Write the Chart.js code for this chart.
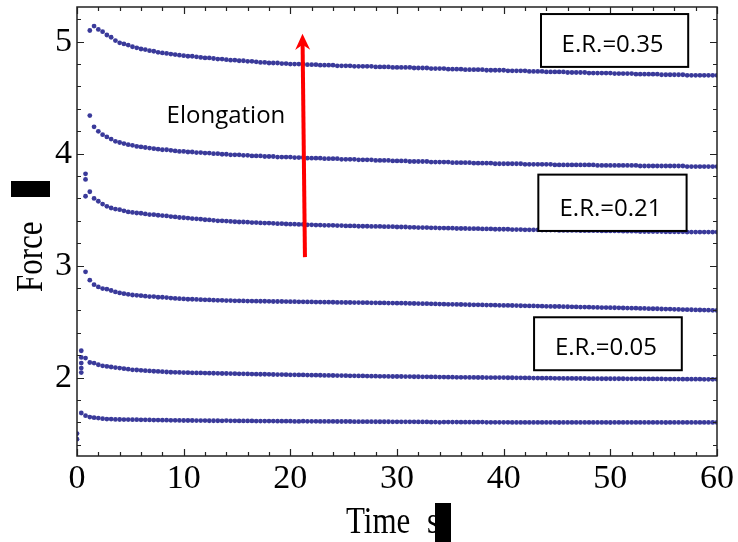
<!DOCTYPE html>
<html>
<head>
<meta charset="utf-8">
<script src="https://cdn.jsdelivr.net/npm/chart.js@4.4.4/dist/chart.umd.min.js"></script>
<style>
  html, body { margin: 0; padding: 0; background: #fff; }
  #wrap { width: 738px; height: 542px; }
</style>
</head>
<body>
<div id="wrap"><canvas id="chart" width="738" height="542"></canvas></div>
<script>
// Relaxation curves: force vs time, one sample every 0.4 s, six runs
// (top to bottom in the plot).
const TIME_S = [
  0.4, 0.8, 1.2, 1.6, 2.0, 2.4, 2.8, 3.2, 3.6, 4.0,
  4.4, 4.8, 5.2, 5.6, 6.0, 6.4, 6.8, 7.2, 7.6, 8.0,
  8.4, 8.8, 9.2, 9.6, 10.0, 10.4, 10.8, 11.2, 11.6, 12.0,
  12.4, 12.8, 13.2, 13.6, 14.0, 14.4, 14.8, 15.2, 15.6, 16.0,
  16.4, 16.8, 17.2, 17.6, 18.0, 18.4, 18.8, 19.2, 19.6, 20.0,
  20.4, 20.8, 21.2, 21.6, 22.0, 22.4, 22.8, 23.2, 23.6, 24.0,
  24.4, 24.8, 25.2, 25.6, 26.0, 26.4, 26.8, 27.2, 27.6, 28.0,
  28.4, 28.8, 29.2, 29.6, 30.0, 30.4, 30.8, 31.2, 31.6, 32.0,
  32.4, 32.8, 33.2, 33.6, 34.0, 34.4, 34.8, 35.2, 35.6, 36.0,
  36.4, 36.8, 37.2, 37.6, 38.0, 38.4, 38.8, 39.2, 39.6, 40.0,
  40.4, 40.8, 41.2, 41.6, 42.0, 42.4, 42.8, 43.2, 43.6, 44.0,
  44.4, 44.8, 45.2, 45.6, 46.0, 46.4, 46.8, 47.2, 47.6, 48.0,
  48.4, 48.8, 49.2, 49.6, 50.0, 50.4, 50.8, 51.2, 51.6, 52.0,
  52.4, 52.8, 53.2, 53.6, 54.0, 54.4, 54.8, 55.2, 55.6, 56.0,
  56.4, 56.8, 57.2, 57.6, 58.0, 58.4, 58.8, 59.2, 59.6, 60.0
];

const FORCE_1 = [
  null, null, 5.10, 5.14, 5.11, 5.09, 5.06, 5.04, 5.01, 4.99,
  4.98, 4.97, 4.955, 4.945, 4.935, 4.93, 4.92, 4.915, 4.905, 4.90,
  4.895, 4.89, 4.885, 4.88, 4.875, 4.87, 4.87, 4.865, 4.86, 4.855,
  4.855, 4.85, 4.845, 4.845, 4.84, 4.835, 4.835, 4.83, 4.83, 4.825,
  4.825, 4.82, 4.815, 4.815, 4.81, 4.81, 4.81, 4.805, 4.805, 4.80,
  4.80, 4.80, 4.80, 4.795, 4.795, 4.795, 4.79, 4.79, 4.79, 4.79,
  4.785, 4.785, 4.785, 4.785, 4.78, 4.78, 4.78, 4.78, 4.78, 4.775,
  4.775, 4.775, 4.775, 4.77, 4.77, 4.77, 4.77, 4.77, 4.765, 4.765,
  4.765, 4.765, 4.76, 4.76, 4.76, 4.76, 4.755, 4.755, 4.755, 4.755,
  4.75, 4.75, 4.75, 4.75, 4.75, 4.745, 4.745, 4.745, 4.745, 4.745,
  4.74, 4.74, 4.74, 4.74, 4.74, 4.735, 4.735, 4.735, 4.735, 4.73,
  4.73, 4.73, 4.73, 4.73, 4.725, 4.725, 4.725, 4.725, 4.725, 4.72,
  4.72, 4.72, 4.72, 4.72, 4.72, 4.715, 4.715, 4.715, 4.715, 4.715,
  4.71, 4.71, 4.71, 4.71, 4.71, 4.71, 4.705, 4.705, 4.705, 4.705,
  4.705, 4.705, 4.70, 4.70, 4.70, 4.70, 4.70, 4.70, 4.70, 4.70
];

const FORCE_2 = [
  null, null, 4.34, 4.24, 4.20, 4.17, 4.15, 4.13, 4.11, 4.10,
  4.09, 4.08, 4.075, 4.065, 4.06, 4.055, 4.05, 4.045, 4.04, 4.035,
  4.035, 4.03, 4.025, 4.02, 4.02, 4.015, 4.015, 4.01, 4.01, 4.005,
  4.005, 4.00, 4.00, 3.995, 3.995, 3.99, 3.99, 3.99, 3.985, 3.985,
  3.98, 3.98, 3.98, 3.975, 3.975, 3.975, 3.97, 3.97, 3.97, 3.97,
  3.965, 3.965, 3.965, 3.96, 3.96, 3.96, 3.96, 3.955, 3.955, 3.955,
  3.955, 3.95, 3.95, 3.95, 3.95, 3.945, 3.945, 3.945, 3.945, 3.94,
  3.94, 3.94, 3.94, 3.935, 3.935, 3.935, 3.935, 3.93, 3.93, 3.93,
  3.93, 3.93, 3.925, 3.925, 3.925, 3.925, 3.925, 3.92, 3.92, 3.92,
  3.92, 3.92, 3.915, 3.915, 3.915, 3.915, 3.915, 3.91, 3.91, 3.91,
  3.91, 3.91, 3.91, 3.91, 3.905, 3.905, 3.905, 3.905, 3.905, 3.905,
  3.905, 3.90, 3.90, 3.90, 3.90, 3.90, 3.90, 3.90, 3.90, 3.90,
  3.90, 3.895, 3.895, 3.895, 3.895, 3.895, 3.895, 3.895, 3.895, 3.895,
  3.895, 3.89, 3.89, 3.89, 3.89, 3.89, 3.89, 3.89, 3.89, 3.89,
  3.89, 3.89, 3.885, 3.885, 3.885, 3.885, 3.885, 3.885, 3.885, 3.885
];

const FORCE_3 = [
  null, 3.62, 3.66, 3.60, 3.575, 3.55, 3.53, 3.515, 3.505, 3.50,
  3.49, 3.48, 3.475, 3.47, 3.468, 3.462, 3.456, 3.455, 3.45, 3.447,
  3.444, 3.438, 3.435, 3.43, 3.428, 3.425, 3.42, 3.418, 3.415, 3.41,
  3.408, 3.405, 3.40, 3.40, 3.398, 3.395, 3.392, 3.39, 3.39, 3.388,
  3.385, 3.385, 3.382, 3.38, 3.38, 3.378, 3.375, 3.375, 3.372, 3.37,
  3.37, 3.368, 3.368, 3.365, 3.365, 3.362, 3.362, 3.36, 3.36, 3.36,
  3.358, 3.358, 3.355, 3.355, 3.355, 3.352, 3.352, 3.352, 3.35, 3.35,
  3.35, 3.348, 3.348, 3.348, 3.345, 3.345, 3.345, 3.342, 3.342, 3.34,
  3.34, 3.34, 3.338, 3.338, 3.336, 3.336, 3.335, 3.335, 3.332, 3.332,
  3.332, 3.33, 3.33, 3.33, 3.328, 3.328, 3.328, 3.325, 3.325, 3.325,
  3.325, 3.322, 3.322, 3.322, 3.32, 3.32, 3.32, 3.32, 3.318, 3.318,
  3.318, 3.318, 3.315, 3.315, 3.315, 3.315, 3.315, 3.312, 3.312, 3.312,
  3.312, 3.312, 3.31, 3.31, 3.31, 3.31, 3.31, 3.308, 3.308, 3.308,
  3.308, 3.305, 3.305, 3.305, 3.305, 3.305, 3.305, 3.302, 3.302, 3.302,
  3.302, 3.302, 3.30, 3.30, 3.30, 3.30, 3.30, 3.30, 3.30, 3.30
];

const FORCE_4 = [
  null, 2.945, 2.87, 2.83, 2.81, 2.795, 2.79, 2.778, 2.765, 2.756,
  2.75, 2.744, 2.738, 2.735, 2.732, 2.727, 2.724, 2.724, 2.718, 2.718,
  2.715, 2.71, 2.707, 2.705, 2.703, 2.70, 2.70, 2.698, 2.696, 2.695,
  2.694, 2.692, 2.69, 2.69, 2.688, 2.688, 2.686, 2.686, 2.685, 2.684,
  2.684, 2.683, 2.682, 2.682, 2.681, 2.68, 2.68, 2.68, 2.679, 2.678,
  2.678, 2.677, 2.677, 2.676, 2.676, 2.675, 2.675, 2.674, 2.674, 2.673,
  2.672, 2.672, 2.671, 2.671, 2.67, 2.67, 2.669, 2.669, 2.668, 2.668,
  2.667, 2.667, 2.666, 2.666, 2.665, 2.665, 2.664, 2.663, 2.662, 2.661,
  2.66, 2.66, 2.659, 2.658, 2.657, 2.656, 2.655, 2.655, 2.654, 2.653,
  2.652, 2.651, 2.65, 2.65, 2.649, 2.648, 2.648, 2.647, 2.646, 2.645,
  2.645, 2.644, 2.643, 2.642, 2.641, 2.64, 2.64, 2.639, 2.638, 2.637,
  2.636, 2.635, 2.635, 2.634, 2.633, 2.632, 2.631, 2.63, 2.63, 2.629,
  2.628, 2.627, 2.626, 2.626, 2.625, 2.624, 2.623, 2.622, 2.621, 2.62,
  2.62, 2.618, 2.618, 2.616, 2.615, 2.615, 2.613, 2.612, 2.612, 2.61,
  2.609, 2.608, 2.607, 2.606, 2.605, 2.604, 2.603, 2.602, 2.601, 2.60
];

const FORCE_5 = [
  2.24, 2.175, 2.135, 2.13, 2.115, 2.105, 2.10, 2.095, 2.09, 2.085,
  2.08, 2.075, 2.07, 2.068, 2.065, 2.062, 2.06, 2.057, 2.055, 2.053,
  2.05, 2.048, 2.047, 2.046, 2.045, 2.044, 2.043, 2.042, 2.042, 2.041,
  2.04, 2.039, 2.038, 2.037, 2.037, 2.036, 2.035, 2.034, 2.034, 2.033,
  2.032, 2.031, 2.03, 2.03, 2.029, 2.028, 2.027, 2.027, 2.026, 2.025,
  2.025, 2.024, 2.024, 2.023, 2.022, 2.022, 2.021, 2.02, 2.02, 2.019,
  2.018, 2.018, 2.017, 2.016, 2.016, 2.015, 2.015, 2.014, 2.013, 2.013,
  2.012, 2.012, 2.011, 2.01, 2.01, 2.01, 2.009, 2.009, 2.008, 2.008,
  2.007, 2.007, 2.006, 2.006, 2.005, 2.005, 2.004, 2.004, 2.003, 2.003,
  2.003, 2.002, 2.002, 2.001, 2.001, 2.0, 2.0, 2.0, 2.0, 2.0,
  1.999, 1.999, 1.998, 1.998, 1.997, 1.997, 1.996, 1.996, 1.995, 1.995,
  1.995, 1.994, 1.994, 1.993, 1.993, 1.993, 1.992, 1.992, 1.992, 1.991,
  1.991, 1.991, 1.99, 1.99, 1.99, 1.99, 1.99, 1.99, 1.989, 1.989,
  1.989, 1.989, 1.988, 1.988, 1.988, 1.988, 1.988, 1.987, 1.987, 1.987,
  1.987, 1.986, 1.986, 1.986, 1.986, 1.986, 1.985, 1.985, 1.985, 1.985
];

const FORCE_6 = [
  1.684, 1.66, 1.648, 1.642, 1.639, 1.633, 1.63, 1.63, 1.627, 1.626,
  1.625, 1.625, 1.624, 1.624, 1.623, 1.623, 1.622, 1.621, 1.621, 1.62,
  1.62, 1.619, 1.619, 1.618, 1.617, 1.617, 1.617, 1.616, 1.616, 1.616,
  1.615, 1.615, 1.615, 1.614, 1.616, 1.614, 1.614, 1.613, 1.613, 1.613,
  1.613, 1.612, 1.612, 1.612, 1.612, 1.612, 1.611, 1.611, 1.611, 1.611,
  1.609, 1.609, 1.611, 1.61, 1.61, 1.61, 1.609, 1.609, 1.609, 1.609,
  1.608, 1.608, 1.608, 1.608, 1.607, 1.607, 1.607, 1.607, 1.607, 1.606,
  1.606, 1.606, 1.606, 1.605, 1.605, 1.605, 1.605, 1.605, 1.605, 1.604,
  1.604, 1.604, 1.602, 1.603, 1.601, 1.603, 1.603, 1.603, 1.603, 1.602,
  1.602, 1.602, 1.602, 1.602, 1.603, 1.601, 1.601, 1.601, 1.601, 1.601,
  1.601, 1.60, 1.60, 1.60, 1.60, 1.60, 1.60, 1.60, 1.60, 1.60,
  1.60, 1.60, 1.599, 1.60, 1.60, 1.60, 1.60, 1.60, 1.60, 1.60,
  1.60, 1.60, 1.60, 1.60, 1.599, 1.60, 1.60, 1.60, 1.60, 1.60,
  1.60, 1.60, 1.60, 1.60, 1.60, 1.60, 1.60, 1.599, 1.60, 1.60,
  1.60, 1.60, 1.60, 1.60, 1.60, 1.60, 1.60, 1.60, 1.60, 1.60
];

// loading-phase samples that sit off the regular time grid
const LOAD_3_T = [0.8, 0.8];
const LOAD_3_F = [3.82, 3.77];
const LOAD_5_T = [0.4, 0.4, 0.4, 0.4];
const LOAD_5_F = [2.18, 2.13, 2.085, 2.045];
const LOAD_6_T = [0.0, 0.0];
const LOAD_6_F = [1.50, 1.45];

const X_TICKS = [0, 10, 20, 30, 40, 50, 60];
const Y_TICKS = [2, 3, 4, 5];

const RUNS = [
  { force: FORCE_1 },
  { force: FORCE_2 },
  { force: FORCE_3, loadT: LOAD_3_T, loadF: LOAD_3_F },
  { force: FORCE_4 },
  { force: FORCE_5, loadT: LOAD_5_T, loadF: LOAD_5_F },
  { force: FORCE_6, loadT: LOAD_6_T, loadF: LOAD_6_F }
];

// annotations, placed in data units so they go through the scales
const ER_BOXES = [
  { text: 'E.R.=0.35', t0: 43.5, t1: 57.3, f0: 4.775, f1: 5.247 },
  { text: 'E.R.=0.21', t0: 43.25, t1: 57.15, f0: 3.31, f1: 3.813 },
  { text: 'E.R.=0.05', t0: 42.85, t1: 56.7, f0: 2.066, f1: 2.539 }
];
const ARROW = { t0: 21.37, f0: 3.076, t1: 21.14, f1: 5.07 };
const ELONGATION = { text: 'Elongation', t: 8.4, f: 4.27 };

const DOT_COLOR = '#3a3a9a';
const SERIF = '"Liberation Serif", "Times New Roman", serif';
const SANS = '"Open Sans", "Noto Sans", sans-serif';

function runPoints(run) {
  const pts = [];
  if (run.loadT) run.loadT.forEach((t, i) => pts.push({ x: t, y: run.loadF[i] }));
  TIME_S.forEach((t, i) => {
    if (run.force[i] !== null) pts.push({ x: t, y: run.force[i] });
  });
  return pts;
}

const frameAndNotes = {
  id: 'frameAndNotes',
  afterDatasetsDraw(chart) {
    const { ctx, chartArea: a, scales: { x, y } } = chart;
    ctx.save();

    // frame + inward ticks on all four sides (Mathematica style)
    ctx.strokeStyle = '#222';
    ctx.lineWidth = 1.5;
    ctx.strokeRect(a.left, a.top, a.right - a.left, a.bottom - a.top);
    ctx.lineWidth = 1.2;
    ctx.beginPath();
    for (let v = 0; v <= 60; v += 2) {
      const px = Math.round(x.getPixelForValue(v)) + 0.5;
      const len = v % 10 === 0 ? 7 : 4;
      ctx.moveTo(px, a.bottom); ctx.lineTo(px, a.bottom - len);
      ctx.moveTo(px, a.top); ctx.lineTo(px, a.top + len);
    }
    for (let k = 7; k <= 26; k++) {
      const v = k / 5;
      const py = Math.round(y.getPixelForValue(v)) + 0.5;
      const len = k % 5 === 0 ? 7 : 4;
      ctx.moveTo(a.left, py); ctx.lineTo(a.left + len, py);
      ctx.moveTo(a.right, py); ctx.lineTo(a.right - len, py);
    }
    ctx.stroke();

    // E.R. boxes
    ctx.font = '24px ' + SANS;
    ctx.textAlign = 'center';
    ctx.textBaseline = 'alphabetic';
    for (const b of ER_BOXES) {
      const l = x.getPixelForValue(b.t0), r = x.getPixelForValue(b.t1);
      const t = y.getPixelForValue(b.f1), btm = y.getPixelForValue(b.f0);
      ctx.fillStyle = '#fff';
      ctx.fillRect(l, t, r - l, btm - t);
      ctx.strokeStyle = '#000';
      ctx.lineWidth = 2;
      ctx.strokeRect(l, t, r - l, btm - t);
      ctx.fillStyle = '#000';
      ctx.fillText(b.text, (l + r) / 2 - 2, btm - 15);
    }

    // elongation arrow
    const ax0 = x.getPixelForValue(ARROW.t0), ay0 = y.getPixelForValue(ARROW.f0);
    const ax1 = x.getPixelForValue(ARROW.t1), ay1 = y.getPixelForValue(ARROW.f1);
    const ang = Math.atan2(ay1 - ay0, ax1 - ax0);
    ctx.strokeStyle = '#ff0000';
    ctx.fillStyle = '#ff0000';
    ctx.lineWidth = 4;
    ctx.beginPath();
    ctx.moveTo(ax0, ay0);
    ctx.lineTo(ax1 - 10 * Math.cos(ang), ay1 - 10 * Math.sin(ang));
    ctx.stroke();
    ctx.translate(ax1, ay1);
    ctx.rotate(ang);
    ctx.beginPath();
    ctx.moveTo(0, 0);
    ctx.lineTo(-16, -7.5);
    ctx.lineTo(-11, 0);
    ctx.lineTo(-16, 7.5);
    ctx.closePath();
    ctx.fill();
    ctx.setTransform(1, 0, 0, 1, 0, 0);

    ctx.fillStyle = '#000';
    ctx.font = '24px ' + SANS;
    ctx.textAlign = 'left';
    ctx.fillText(ELONGATION.text, x.getPixelForValue(ELONGATION.t), y.getPixelForValue(ELONGATION.f));

    // axis titles (the unit is blacked out in the source figure)
    ctx.font = '31px ' + SERIF;
    ctx.save();
    ctx.translate(346, 533);
    ctx.scale(1, 1.25);
    ctx.fillText('Time', 0, 0);
    ctx.fillText('s', 81, 0);
    ctx.restore();
    ctx.fillRect(435, 503, 16, 39);

    ctx.save();
    ctx.translate(42, 292);
    ctx.rotate(-Math.PI / 2);
    ctx.scale(1, 1.25);
    ctx.fillText('Force', 0, 0);
    ctx.restore();
    ctx.fillRect(11, 181, 39, 16);

    ctx.restore();
  }
};

new Chart(document.getElementById('chart'), {
  type: 'scatter',
  data: {
    datasets: RUNS.map(run => ({
      data: runPoints(run),
      backgroundColor: DOT_COLOR,
      borderWidth: 0,
      pointRadius: 2.4,
      pointHoverRadius: 2.4
    }))
  },
  options: {
    responsive: false,
    animation: false,
    devicePixelRatio: 1,
    layout: { padding: { left: 0, right: 21, top: 7, bottom: 0 } },
    plugins: { legend: { display: false }, tooltip: { enabled: false } },
    scales: {
      x: {
        type: 'linear', min: 0, max: 60,
        grid: { display: false, drawTicks: false },
        border: { display: false },
        ticks: { font: { family: SERIF, size: 34 }, color: '#000', padding: 3, maxRotation: 0 },
        afterBuildTicks: s => { s.ticks = X_TICKS.map(v => ({ value: v })); },
        afterFit: s => { s.height = 86; s.paddingLeft = 0; s.paddingRight = 0; }
      },
      y: {
        type: 'linear', min: 1.3, max: 5.31,
        grid: { display: false, drawTicks: false },
        border: { display: false },
        ticks: { font: { family: SERIF, size: 34 }, color: '#000', padding: 5 },
        afterBuildTicks: s => { s.ticks = Y_TICKS.map(v => ({ value: v })); },
        afterFit: s => { s.width = 77; s.paddingTop = 0; s.paddingBottom = 0; }
      }
    }
  },
  plugins: [frameAndNotes]
});
</script>
</body>
</html>
